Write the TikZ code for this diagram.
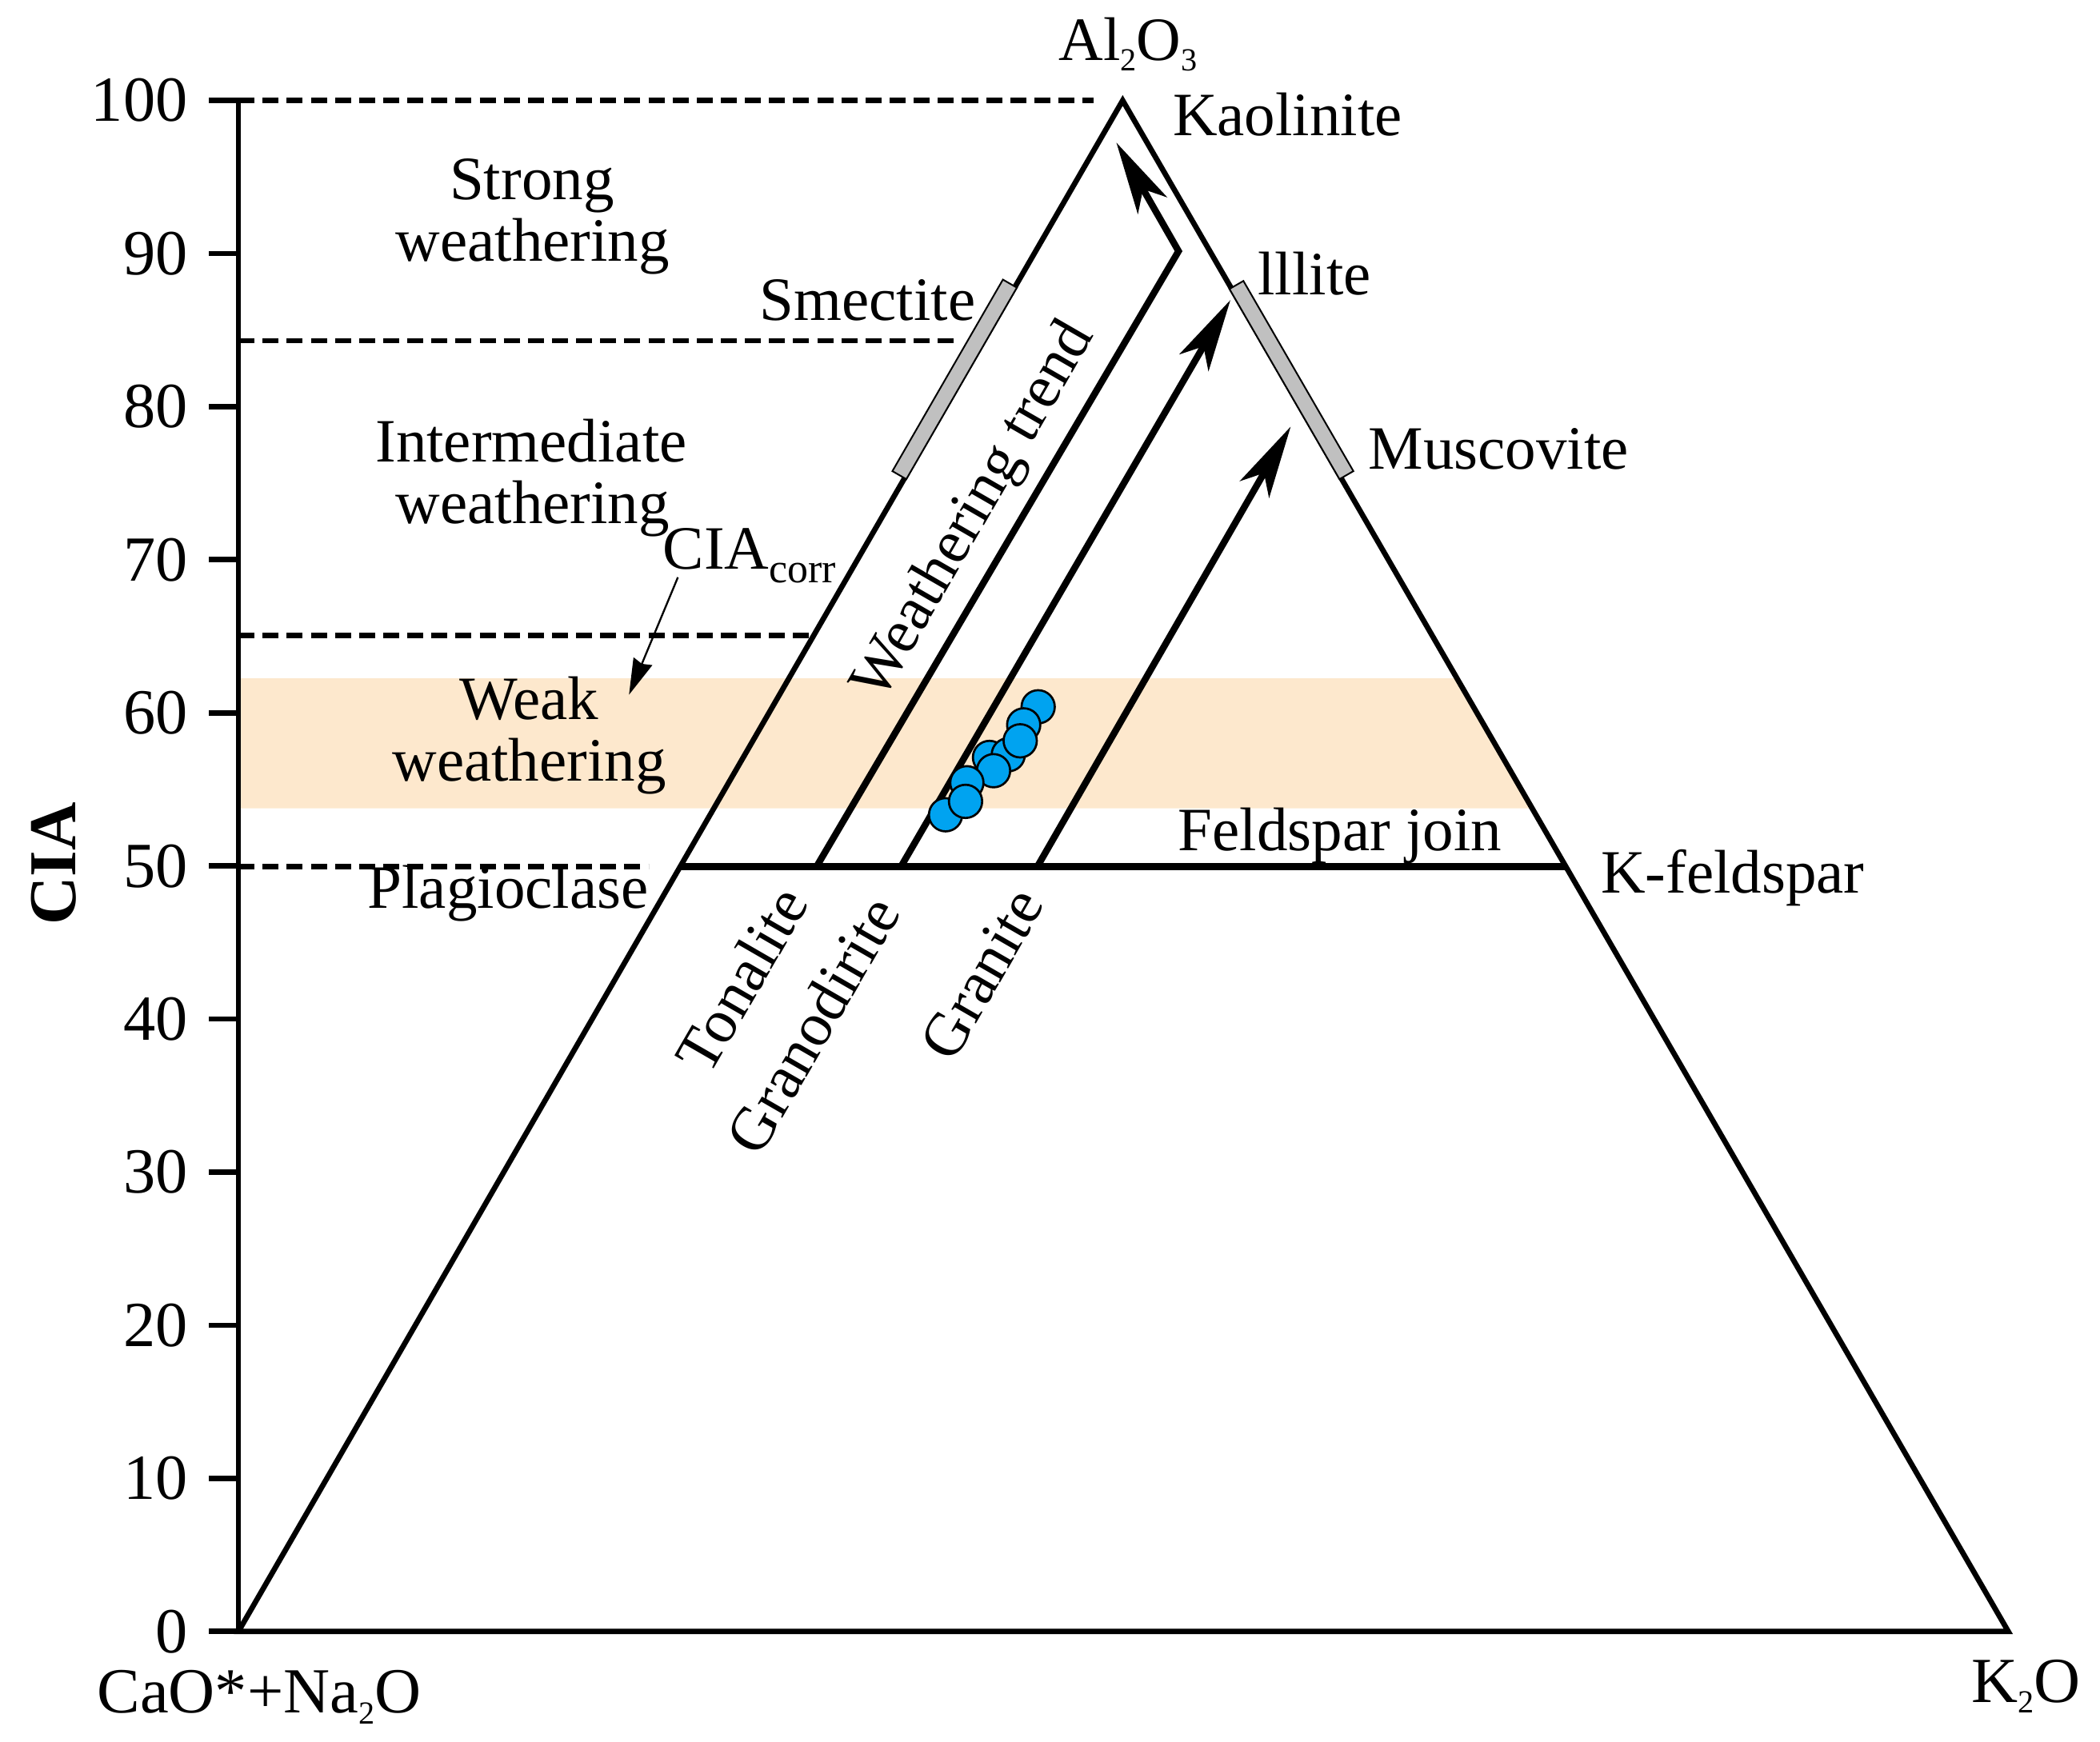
\documentclass[tikz,border=0pt]{standalone}
\usepackage{fontspec}
\setmainfont{Liberation Serif}
\usetikzlibrary{arrows.meta}
\definecolor{bandcol}{RGB}{253,232,205}
\definecolor{barcol}{RGB}{192,192,192}
\definecolor{ptcol}{RGB}{0,163,240}
\newcommand{\lsub}[1]{\raisebox{-4pt}{\fontsize{12}{12}\selectfont #1}}
\begin{document}
\begin{tikzpicture}[x=0.5pt,y=-0.5pt,
  every node/.style={inner sep=0pt, outer sep=0pt},
  lbl/.style={font=\fontsize{23}{23}\selectfont},
  numlbl/.style={font=\fontsize{24}{24}\selectfont, anchor=east},
  tri/.style={line width=2pt, line join=miter, miter limit=20},
  trend/.style={line width=2.5pt, line join=miter, miter limit=20, -{Stealth[length=27pt,width=12.5pt,inset=7pt]}},
  dline/.style={line width=2pt, dash pattern=on 6pt off 3pt},
  mineral/.style={fill=barcol, draw=black, line width=0.6pt},
  sample/.style={circle, draw=black, line width=0.8pt, fill=ptcol, minimum size=12.4pt},
]
\useasboundingbox (0,0) rectangle (1567.5,1300);

% key points
\coordinate (A) at (178,1218);
\coordinate (T) at (838,75);
\coordinate (R) at (1499,1218);
\coordinate (P) at (507.7,647);
\coordinate (K) at (1168.8,647);

% weak weathering band
\fill[bandcol] (178,506.5) -- (1087.5,506.5) -- (1143.6,603.5) -- (178,603.5) -- cycle;

% dashed boundaries
\coordinate (d1a) at (178,75);    \coordinate (d1b) at (816,75);
\coordinate (d2a) at (178,254.4); \coordinate (d2b) at (715,254.4);
\coordinate (d3a) at (178,474.5); \coordinate (d3b) at (606,474.5);
\coordinate (d4a) at (178,647);   \coordinate (d4b) at (484,647);
\draw[dline] (d1a) -- (d1b);
\draw[dline] (d2a) -- (d2b);
\draw[dline] (d3a) -- (d3b);
\draw[dline] (d4a) -- (d4b);

% CIA axis
\draw[line width=2pt] (d1a) -- (A);
\foreach \v in {0,10,...,100}{
  \draw[line width=2pt] (156,{1218-\v*11.43}) -- (178,{1218-\v*11.43});
  \node[numlbl] (num\v) at (140,{1218-\v*11.43}) {\v};
}

% triangle
\draw[tri] (A) -- (T) -- (R) -- cycle;

% feldspar join
\draw[line width=2.6pt] (P) -- (K);

% trends
\coordinate (to0) at (609.5,647);
\coordinate (tok) at (879.7,187.5);
\coordinate (tot) at (833.3,106.5);
\coordinate (gd0) at (672.5,647);
\coordinate (gdt) at (918.4,224);
\coordinate (gr0) at (774.3,647);
\coordinate (grt) at (963.4,318.5);
\draw[trend] (to0) -- (tok) -- (tot);
\draw[trend] (gd0) -- (gdt);
\draw[trend] (gr0) -- (grt);

% mineral bars
\draw[mineral] (676.5,357.75) -- (759.0,214.75) -- (748.6,208.75) -- (666.1,351.75) -- cycle;
\draw[mineral] (917.7,215.75) -- (999.8,357.75) -- (1010.2,351.75) -- (928.1,209.75) -- cycle;

% CIAcorr arrow
\coordinate (c1) at (506,431);
\coordinate (c2) at (469.5,518.7);
\draw[line width=0.7pt, -{Stealth[length=13.5pt,width=7.5pt,inset=1pt]}] (c1) -- (c2);

% samples
\foreach \px/\py [count=\i] in {738.6/565.5, 774.9/527.7, 764.1/541.2, 752.6/563.5, 761.5/553.1, 741.6/575.4, 721.7/584.4, 705.8/608.3, 720.7/598.3}{
  \node[sample] (pt\i) at (\px,\py) {};
}

% labels
\node[lbl, anchor=base] (al) at (842,45) {Al\lsub{2}O\lsub{3}};
\node[lbl, anchor=base west] (kao) at (875.5,101) {Kaolinite};
\node[lbl, anchor=base west] (ill) at (939,220) {lllite};
\node[lbl, anchor=base west] (mus) at (1021.5,350.3) {Muscovite};
\node[lbl, anchor=base east] (sme) at (728,239) {Smectite};
\node[lbl, anchor=base] (st1) at (397,149) {Strong};
\node[lbl, anchor=base] (st2) at (397.5,195) {weathering};
\node[lbl, anchor=base] (im1) at (396.5,345) {Intermediate};
\node[lbl, anchor=base] (im2) at (397.5,391) {weathering};
\node[lbl, anchor=base west] (cia) at (494.8,425) {CIA\raisebox{-5pt}{\fontsize{15.5}{15.5}\selectfont corr}};
\node[lbl, anchor=base] (wk1) at (395,537) {Weak};
\node[lbl, anchor=base] (wk2) at (395,583) {weathering};
\node[lbl, anchor=base east] (pla) at (484,678) {Plagioclase};
\node[lbl, anchor=base east] (fj) at (1121,635) {Feldspar join};
\node[lbl, anchor=base west] (kf) at (1195,667) {K-feldspar};
\node[lbl, rotate=60] (ton) at (553.5,731) {Tonalite};
\node[lbl, rotate=60] (gdr) at (606.5,765) {Granodirite};
\node[lbl, rotate=60] (gra) at (733,727) {Granite};
\node[lbl, rotate=60] (wt) at (728,382) {Weathering trend};
\node[font=\fontsize{25}{25}\selectfont\bfseries, rotate=90] (ciaax) at (40,645) {CIA};
\node[font=\fontsize{24}{24}\selectfont, anchor=base west] (cao) at (72.6,1279) {CaO*+Na\lsub{2}O};
\node[font=\fontsize{24}{24}\selectfont, anchor=base] (k2o) at (1512.5,1271) {K\lsub{2}O};
\end{tikzpicture}
\end{document}
